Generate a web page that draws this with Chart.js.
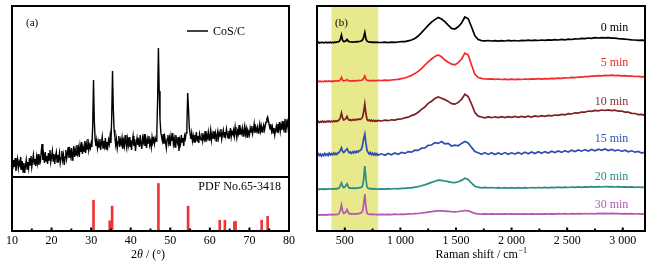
<!DOCTYPE html>
<html><head><meta charset="utf-8">
<script src="https://cdn.jsdelivr.net/npm/chart.js@4.4.1/dist/chart.umd.min.js"></script>
<style>
html,body{margin:0;padding:0;background:#fff;}
#wrap{position:relative;width:655px;height:268px;overflow:hidden;}
#wrap canvas{position:absolute;left:0;top:0;}
</style></head><body>
<div id="wrap">
<canvas id="cA1" width="655" height="268"></canvas>
<canvas id="cA2" width="655" height="268"></canvas>
<canvas id="cB" width="655" height="268"></canvas>
</div>
<script>
// ---------------- Panel (a): XRD ----------------
const xrdStart = 10, xrdStep = 0.2;           // sampling grid of the pattern (2θ, °)
const xrdIntensity = [
14,8,17,10,19,6,13,18,9,15,
12,20,7,16,5,14,4,11,17,8,
15,9,19,12,21,10,16,22,13,18,
11,20,14,23,12,19,16,26,33,17,
22,14,25,16,21,13,24,17,27,15,
20,26,16,23,13,21,25,15,22,18,
24,14,19,26,17,22,12,20,27,18,
23,30,19,26,21,29,17,24,31,20,
27,22,32,24,29,20,31,25,35,23,
30,26,36,24,33,28,38,27,32,29,
34,30,52,97,56,38,31,37,29,35,
30,38,27,34,40,29,36,31,39,28,
35,30,37,33,41,34,60,106,68,47,
40,32,38,29,35,41,30,37,33,39,
28,36,31,42,34,29,38,32,40,30,
37,27,35,41,31,38,26,34,39,32,
36,30,42,33,28,39,35,43,31,37,
29,38,34,41,32,36,30,40,35,38,
33,39,36,44,78,129,86,58,45,40,
36,43,33,40,35,29,38,42,34,39,
31,41,36,44,33,38,30,42,37,34,
40,26,37,33,42,35,39,31,41,38,
44,52,84,68,50,43,38,44,36,41,
35,42,38,45,36,41,34,43,39,37,
44,36,41,38,46,35,42,39,45,37,
41,47,37,43,39,46,40,44,36,42,
46,39,44,41,48,38,43,47,40,45,
41,48,43,39,46,42,49,40,45,43,
47,41,50,44,39,46,43,52,42,47,
44,49,41,46,51,43,48,40,47,45,
42,49,45,51,43,47,53,44,49,46,
50,44,48,53,46,51,45,49,52,47,
51,55,58,60,56,52,48,53,46,50,
44,49,42,47,51,45,53,48,55,46,
52,47,56,49,54,45,58,51,55,48,
52];
const xrdAngles = xrdIntensity.map((_, i) => Math.round((xrdStart + i * xrdStep) * 10) / 10);

// PDF No.65-3418 reference lines
const pdfAngles    = [30.6, 34.7, 35.3, 47.0, 54.5, 62.5, 63.8, 66.2, 66.5, 73.1, 74.6];
const pdfIntensity = [57, 19, 46, 88, 46, 20, 20, 17, 18, 20, 27];

const xrdTicks      = [10, 20, 30, 40, 50, 60, 70, 80];
const xrdMinorTicks = [15, 25, 35, 45, 55, 65, 75];

// ---------------- Panel (b): Raman ----------------
const ramanShift = [];
for (let v = 250; v <= 800; v += 10) ramanShift.push(v);
for (let v = 830; v <= 3200; v += 30) ramanShift.push(v);

const raman0min = [
188.2,188.9,188.0,188.6,188.3,188.8,188.1,188.5,188.9,188.2,
188.6,188.4,188.9,188.3,188.7,188.5,188.9,188.6,189.1,189.0,
189.6,191.5,196.0,190.8,189.4,189.6,190.2,191.6,190.0,189.3,
189.0,189.2,188.8,189.1,189.0,189.3,189.1,189.4,189.5,189.8,
190.2,191.0,194.0,198.5,192.0,189.8,189.2,188.9,189.1,188.7,
188.9,188.6,188.8,188.5,188.9,188.6,
188.5,188.8,188.4,188.9,188.6,189.0,189.3,189.4,190.2,191.0,
192.6,195.0,198.4,202.0,205.6,208.8,211.4,213.5,212.0,209.4,
205.8,202.6,202.0,204.2,208.0,214.0,212.2,204.0,195.2,191.4,
190.4,190.1,190.5,190.0,190.4,189.9,190.3,190.0,190.6,190.2,
190.5,190.0,190.6,190.3,190.8,190.4,190.9,190.5,191.0,190.6,
191.1,190.8,191.3,191.0,191.6,191.2,191.8,191.5,192.2,192.0,
192.6,192.4,193.0,192.7,193.3,193.0,193.4,193.1,193.3,192.9,
192.8,192.4,192.2,191.8,191.5,191.2,191.0,190.7,190.9,190.6];
const raman5min = [
149.2,149.8,149.4,149.9,149.3,149.7,149.5,150.0,149.4,149.8,
149.6,150.1,149.7,149.9,149.5,150.0,149.8,150.2,149.9,150.1,
150.3,151.2,153.6,150.8,150.2,150.4,150.7,151.3,150.4,150.0,
150.2,149.9,150.3,150.0,150.4,150.2,150.5,150.3,150.6,150.5,
150.8,151.3,152.6,155.0,152.0,150.8,150.4,150.6,150.2,150.5,
150.3,150.6,150.2,150.5,150.4,150.7,
150.5,150.9,150.6,151.0,151.3,151.7,152.3,153.0,154.2,155.6,
157.4,159.6,162.4,165.8,169.2,172.0,174.6,176.0,174.2,171.0,
168.8,166.8,166.2,168.4,172.0,177.8,176.0,166.0,156.6,153.4,
152.6,152.0,151.8,152.1,151.6,152.0,151.5,151.9,151.4,151.8,
151.4,151.9,151.5,152.0,151.6,152.1,151.8,152.3,151.9,152.4,
152.1,152.6,152.3,152.8,152.6,153.2,153.0,153.6,153.4,154.0,
153.8,154.5,154.3,155.0,154.8,155.4,155.2,155.7,155.4,155.8,
155.3,155.6,155.1,155.3,154.8,155.0,154.5,154.7,154.2,154.4];
const raman10min = [
108.6,109.8,108.4,109.5,108.9,110.0,108.7,109.6,108.8,109.9,
109.1,110.1,109.0,109.8,109.3,110.2,109.4,110.3,109.6,110.5,
111.2,113.5,118.0,113.0,111.0,111.4,112.5,114.5,112.0,110.8,
111.3,110.6,111.4,110.8,111.6,111.0,111.8,111.2,112.0,111.6,
112.4,114.0,119.5,127.0,117.5,111.5,110.4,111.2,110.0,110.9,
109.8,110.7,109.6,110.5,109.8,110.6,
110.0,110.8,110.3,111.2,110.9,111.8,112.0,113.2,113.8,115.4,
116.6,118.8,121.6,124.0,127.6,129.8,132.4,134.0,132.8,131.4,
129.6,127.4,126.8,128.6,131.6,136.8,134.4,127.0,118.4,114.8,
114.0,113.2,114.1,113.3,114.2,113.4,114.3,113.5,114.4,113.6,
114.5,113.7,114.6,113.9,114.8,114.0,115.0,114.3,115.3,114.7,
115.6,115.1,116.0,115.6,116.6,116.2,117.3,117.0,118.2,117.9,
119.0,118.8,120.0,119.6,120.6,120.2,121.0,120.5,121.2,120.4,
120.8,119.8,120.0,118.9,118.8,117.6,117.5,116.4,116.6,115.6];
const raman15min = [
75.2,77.4,75.6,77.0,74.9,76.8,75.4,77.6,75.8,77.1,
75.5,77.9,76.0,77.5,76.2,78.0,76.4,77.8,76.6,78.4,
78.6,80.8,83.2,79.6,78.4,79.6,81.0,82.2,79.8,78.2,
79.0,77.6,79.2,78.0,79.6,78.4,79.8,79.0,80.4,80.6,
82.0,86.0,92.5,97.0,88.0,80.5,78.4,77.0,78.6,76.4,
77.8,76.0,77.6,75.8,77.4,75.9,
77.2,75.8,77.6,76.2,78.0,76.8,78.6,77.6,79.4,78.8,
80.8,80.6,82.8,83.0,85.6,86.0,88.4,87.6,89.4,87.2,
87.6,85.0,85.8,85.2,87.6,89.6,88.0,83.6,79.4,78.2,
76.8,78.4,76.6,78.2,76.4,78.0,76.6,78.4,76.8,78.2,
77.0,78.6,77.0,78.8,77.2,79.0,77.4,79.2,77.8,79.4,
78.0,79.8,78.4,80.0,78.6,80.4,79.0,80.8,79.4,81.0,
79.8,81.4,80.0,81.6,80.2,81.8,80.6,82.0,80.4,81.6,
80.2,81.2,79.6,80.8,79.2,80.2,78.8,79.6,78.0,78.8];
const raman20min = [
41.4,42.0,41.5,42.1,41.6,42.0,41.5,42.2,41.7,42.1,
41.8,42.3,41.8,42.2,41.9,42.4,42.0,42.3,42.1,42.6,
43.2,45.6,48.0,45.0,43.4,44.0,45.6,47.2,44.6,43.0,
43.2,42.6,43.0,42.5,43.0,42.6,43.1,42.8,43.3,43.4,
43.8,45.4,52.0,65.0,52.0,44.0,42.6,42.2,42.6,42.0,
42.4,41.9,42.3,41.8,42.2,41.8,
42.2,41.9,42.3,42.0,42.5,42.2,42.7,42.6,43.1,43.2,
43.9,44.3,45.2,46.1,47.4,48.6,49.8,50.8,50.6,50.0,
49.4,48.6,48.4,49.2,50.6,52.8,51.6,47.8,44.8,43.8,
43.2,43.6,43.1,43.5,43.0,43.4,43.0,43.4,42.9,43.3,
42.9,43.3,42.9,43.4,43.0,43.5,43.1,43.5,43.1,43.6,
43.2,43.7,43.3,43.8,43.4,43.9,43.5,44.0,43.6,44.1,
43.7,44.2,43.8,44.3,43.9,44.4,44.0,44.5,44.1,44.4,
44.0,44.3,43.9,44.2,43.8,44.1,43.7,44.0,43.6,43.8];
const raman30min = [
15.8,16.3,15.9,16.4,16.0,16.3,15.9,16.4,16.0,16.4,
16.1,16.5,16.1,16.5,16.2,16.6,16.3,16.6,16.4,16.9,
17.6,21.0,26.0,20.0,17.6,18.0,19.4,21.4,18.6,17.2,
17.3,16.9,17.2,16.9,17.3,17.0,17.4,17.2,17.6,17.8,
18.4,20.0,27.0,37.0,24.0,17.8,16.9,16.6,16.9,16.5,
16.8,16.4,16.7,16.3,16.6,16.3,
16.6,16.3,16.7,16.4,16.8,16.5,16.9,16.7,17.1,17.0,
17.4,17.5,18.0,18.4,18.9,19.3,19.8,20.2,20.1,19.9,
19.6,19.3,19.2,19.5,19.9,20.5,20.2,18.9,17.6,17.1,
16.8,17.1,16.8,17.1,16.8,17.1,16.8,17.1,16.8,17.1,
16.8,17.1,16.8,17.1,16.8,17.1,16.8,17.1,16.8,17.2,
16.9,17.2,16.9,17.3,17.0,17.3,17.0,17.4,17.1,17.4,
17.1,17.5,17.2,17.5,17.2,17.6,17.3,17.6,17.3,17.6,
17.3,17.5,17.2,17.4,17.1,17.3,17.0,17.2,16.9,17.1];

const ramanSeriesNames = ['0 min', '5 min', '10 min', '15 min', '20 min', '30 min'];
const ramanSeries = [raman0min, raman5min, raman10min, raman15min, raman20min, raman30min];
const ramanTicks      = [500, 1000, 1500, 2000, 2500, 3000];
const ramanMinorTicks = [750, 1250, 1750, 2250, 2750];
const highlightRange  = [380, 800];   // shaded band, cm-1

// ---------------- styles ----------------
const SERIF = '"Liberation Serif", "Times New Roman", serif';
const ramanColors = ['#000000', '#f42a2a', '#7c1f22', '#2b4fb0', '#2a8c82', '#b257b4'];
const ramanTextColors = ['#000000', '#ee2a2a', '#843030', '#3455b0', '#2f8c84', '#b45ab4'];
const ramanLabelLevels = [203, 168, 129, 92, 54, 26];  // label vertical placement (y-scale units)

function drawFrame(chart) {
  const {ctx, chartArea: a} = chart;
  ctx.save();
  ctx.strokeStyle = '#000'; ctx.lineWidth = 2;
  ctx.strokeRect(a.left, a.top, a.right - a.left, a.bottom - a.top);
  ctx.restore();
}
function drawInwardTicks(chart, major, minor, lenMaj, lenMin) {
  const {ctx, chartArea: a} = chart; const xs = chart.scales.x;
  ctx.save(); ctx.strokeStyle = '#000'; ctx.lineWidth = 2;
  ctx.beginPath();
  major.forEach(v => { const p = xs.getPixelForValue(v); ctx.moveTo(p, a.bottom); ctx.lineTo(p, a.bottom - lenMaj); });
  minor.forEach(v => { const p = xs.getPixelForValue(v); ctx.moveTo(p, a.bottom); ctx.lineTo(p, a.bottom - lenMin); });
  ctx.stroke(); ctx.restore();
}
const commonOpts = { responsive: false, animation: false, events: [],
  plugins: { legend: { display: false }, tooltip: { enabled: false } } };
const tickFont = { family: SERIF, size: 12 };

// Panel (a) upper: XRD pattern
new Chart(document.getElementById('cA1'), {
  type: 'line',
  data: { datasets: [{ label: 'CoS/C', data: xrdAngles.map((x, i) => ({ x, y: xrdIntensity[i] })),
    borderColor: '#000', borderWidth: 1.4, pointRadius: 0, tension: 0 }] },
  options: { ...commonOpts,
    layout: { padding: { left: 12, right: 366, top: 6, bottom: 91 } },
    scales: { x: { type: 'linear', min: 10, max: 80, display: false },
              y: { min: 0, max: 171, display: false } } },
  plugins: [{ id: 'a1deco', afterDraw(chart) {
    drawFrame(chart);
    const ctx = chart.ctx; ctx.save();
    ctx.fillStyle = '#000'; ctx.strokeStyle = '#000'; ctx.textBaseline = 'middle';
    ctx.font = '11px ' + SERIF; ctx.textAlign = 'left';
    ctx.fillText('(a)', 26, 23.5);
    ctx.lineWidth = 1.5; ctx.beginPath(); ctx.moveTo(187, 31); ctx.lineTo(208, 31); ctx.stroke();
    ctx.font = '12px ' + SERIF;
    ctx.fillText(chart.data.datasets[0].label, 213, 31.5);
    ctx.restore();
  } }]
});

// Panel (a) lower: PDF card
new Chart(document.getElementById('cA2'), {
  type: 'bar',
  data: { datasets: [{ label: 'PDF No.65-3418', data: pdfAngles.map((x, i) => ({ x, y: pdfIntensity[i] })),
    backgroundColor: '#f03434', barThickness: 2 }] },
  options: { ...commonOpts,
    layout: { padding: { left: 12, right: 366, top: 177, bottom: 0 } },
    scales: {
      x: { type: 'linear', min: 10, max: 80, offset: false,
           grid: { display: false, drawTicks: false, offset: false }, border: { display: false },
           afterBuildTicks: s => { s.ticks = xrdTicks.map(v => ({ value: v })); },
           afterFit: s => { s.height = 37; },
           ticks: { padding: 3, color: '#000', font: tickFont, maxRotation: 0, autoSkip: false } },
      y: { min: 0, max: 100, display: false } } },
  plugins: [{ id: 'a2deco', afterDraw(chart) {
    drawFrame(chart);
    drawInwardTicks(chart, xrdTicks, xrdMinorTicks, 3.5, 2.5);
    const ctx = chart.ctx; ctx.save();
    ctx.fillStyle = '#000'; ctx.textBaseline = 'middle';
    ctx.font = '12px ' + SERIF; ctx.textAlign = 'right';
    ctx.fillText(chart.data.datasets[0].label, 281, 187);
    // axis title: 2θ / (°)
    const parts = [['2', '12px ' + SERIF], ['θ', 'italic 12px ' + SERIF], [' / (°)', '12px ' + SERIF]];
    let total = 0;
    parts.forEach(p => { ctx.font = p[1]; total += ctx.measureText(p[0]).width; });
    let x = 148 - total / 2; ctx.textAlign = 'left';
    parts.forEach(p => { ctx.font = p[1]; ctx.fillText(p[0], x, 255); x += ctx.measureText(p[0]).width; });
    ctx.restore();
  } }]
});

// Panel (b): Raman spectra
new Chart(document.getElementById('cB'), {
  type: 'line',
  data: { datasets: ramanSeries.map((vals, k) => ({
    label: ramanSeriesNames[k],
    data: ramanShift.map((x, i) => ({ x, y: vals[i] })),
    borderColor: ramanColors[k], borderWidth: 1.7, pointRadius: 0, tension: 0 })) },
  options: { ...commonOpts,
    layout: { padding: { left: 317, right: 10, top: 6, bottom: 0 } },
    scales: {
      x: { type: 'linear', min: 250, max: 3200,
           grid: { display: false, drawTicks: false }, border: { display: false },
           afterBuildTicks: s => { s.ticks = ramanTicks.map(v => ({ value: v })); },
           afterFit: s => { s.height = 37; },
           ticks: { padding: 3, color: '#000', font: tickFont, maxRotation: 0, autoSkip: false,
                    callback: v => String(v).replace(/\B(?=(\d{3})+(?!\d))/g, ' ') } },
      y: { min: 0, max: 225, display: false } } },
  plugins: [{ id: 'bdeco',
    beforeDatasetsDraw(chart) {
      const {ctx, chartArea: a} = chart; const xs = chart.scales.x;
      const x0 = xs.getPixelForValue(highlightRange[0]), x1 = xs.getPixelForValue(highlightRange[1]);
      ctx.save(); ctx.fillStyle = 'rgb(232,232,140)';
      ctx.fillRect(x0, a.top, x1 - x0, a.bottom - a.top); ctx.restore();
    },
    afterDraw(chart) {
      drawFrame(chart);
      drawInwardTicks(chart, ramanTicks, ramanMinorTicks, 3.5, 2.5);
      const ctx = chart.ctx; const ys = chart.scales.y; const xs = chart.scales.x;
      ctx.save(); ctx.textBaseline = 'middle';
      ctx.font = '12px ' + SERIF; ctx.textAlign = 'right';
      ramanSeriesNames.forEach((n, k) => {
        ctx.fillStyle = ramanTextColors[k];
        ctx.fillText(n, xs.getPixelForValue(3050), ys.getPixelForValue(ramanLabelLevels[k]));
      });
      ctx.fillStyle = '#000'; ctx.textAlign = 'left'; ctx.font = '11px ' + SERIF;
      ctx.fillText('(b)', 335, 23.5);
      // axis title
      ctx.font = '12px ' + SERIF;
      const main = 'Raman shift / cm', sup = '−1';
      const w1 = ctx.measureText(main).width;
      ctx.font = '8px ' + SERIF; const w2 = ctx.measureText(sup).width;
      let x = 481 - (w1 + w2) / 2;
      ctx.font = '12px ' + SERIF; ctx.fillText(main, x, 255);
      ctx.font = '8px ' + SERIF; ctx.fillText(sup, x + w1 + 0.5, 251);
      ctx.restore();
    } }]
});
</script>
</body></html>
